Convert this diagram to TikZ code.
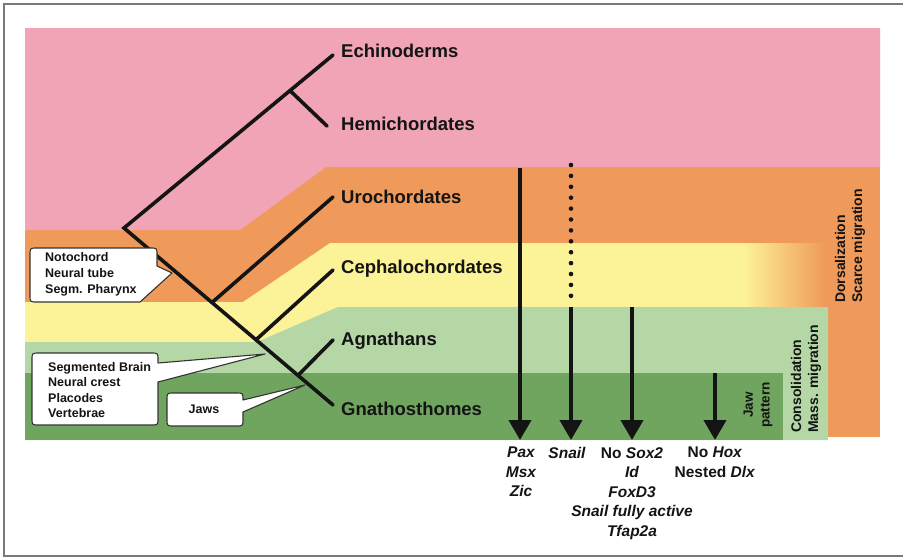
\documentclass[tikz,border=0pt]{standalone}
\usepackage{fontspec}
\setmainfont{Liberation Sans}
\usetikzlibrary{arrows.meta}
\definecolor{pinkbg}{RGB}{240,164,182}
\definecolor{orangebg}{RGB}{239,154,90}
\definecolor{yellowbg}{RGB}{252,242,152}
\definecolor{lgreen}{RGB}{180,215,165}
\definecolor{dgreen}{RGB}{112,165,96}
\definecolor{ink}{RGB}{20,20,20}
\definecolor{framegray}{RGB}{120,120,120}
\begin{document}
\begin{tikzpicture}[x=1pt,y=-1pt,
  treeline/.style={line width=3.6pt, line cap=round, draw=ink},
  taxon/.style={anchor=base west, inner sep=0pt, text=ink, font=\fontsize{18.5}{20}\selectfont\bfseries},
  callout/.style={draw=black!80, line width=1.1pt, fill=white, line join=round},
  callouttext/.style={inner sep=0pt, text=ink, align=left, font=\fontsize{12.5}{15.5}\selectfont\bfseries},
  genearrow/.style={line width=4.2pt, draw=ink, -{Triangle[width=22pt,length=20pt]}},
  genelabel/.style={anchor=north, inner sep=0pt, align=center, text=ink, font=\fontsize{15.5}{19.5}\selectfont\bfseries},
  sidetext/.style={rotate=90, inner sep=0pt, text=ink, font=\fontsize{14}{17}\selectfont\bfseries}
]
\useasboundingbox (0,0) rectangle (903,558);
\fill[white] (0,0) rectangle (903,558);
% frame
\draw[framegray, line width=1.5pt] (903,4) -- (4,4) -- (4,556) -- (903,556);

% background bands
\fill[orangebg] (25,167) rectangle (880,437);
\fill[pinkbg] (25,28) -- (880,28) -- (880,167) -- (326,167) -- (240,230) -- (25,230) -- cycle;
\fill[yellowbg] (25,302) -- (243,302) -- (330,243) -- (745,243) -- (745,342) -- (25,342) -- cycle;
\shade[left color=yellowbg, right color=orangebg] (744,243) rectangle (825,342);
\fill[lgreen] (25,342) -- (257,342) -- (338,307) -- (828,307) -- (828,440) -- (25,440) -- cycle;
\fill[dgreen] (25,373) rectangle (783,440);

% tree
\coordinate (root) at (124,228);
\coordinate (tE) at (333,55);
\coordinate (hJ) at (290,90.6);
\coordinate (tH) at (327,126);
\coordinate (tG) at (333,405);
\coordinate (uJ) at (212,302.5);
\coordinate (tU) at (333,197);
\coordinate (cJ) at (256,339.8);
\coordinate (tC) at (333,270);
\coordinate (aJ) at (298,375.4);
\coordinate (tA) at (333,340);
\draw[treeline] (tE) -- (root) -- (tG);
\draw[treeline] (hJ) -- (tH);
\draw[treeline] (uJ) -- (tU);
\draw[treeline] (cJ) -- (tC);
\draw[treeline] (aJ) -- (tA);

\node[taxon] (echi) at (341,57) {Echinoderms};
\node[taxon] (hemi) at (341,130) {Hemichordates};
\node[taxon] (uro) at (341,203) {Urochordates};
\node[taxon] (cephalo) at (341,273) {Cephalochordates};
\node[taxon] (agna) at (341,345) {Agnathans};
\node[taxon] (gnatho) at (341,415) {Gnathosthomes};

% callouts
\draw[callout] (140,302) -- (37,302) .. controls (30,302) .. (30,295) -- (30,255) .. controls (30,248) .. (37,248)
  -- (150,248) .. controls (157,248) .. (157,255) -- (157,266) -- (172,273) -- cycle;
\node[callouttext, anchor=north west] (noto) at (45,252) {Notochord\\[0.5pt]Neural tube\\[0.5pt]Segm. Pharynx};

\draw[callout] (158,382) -- (158,418) .. controls (158,425) .. (151,425) -- (39,425) .. controls (32,425) .. (32,418)
  -- (32,360) .. controls (32,353) .. (39,353) -- (151,353) .. controls (158,353) .. (158,360) -- (158,363) -- (265,354) -- cycle;
\node[callouttext, anchor=north west] (brain) at (48,362) {Segmented Brain\\Neural crest\\Placodes\\Vertebrae};

\draw[callout] (243,412) -- (243,419) .. controls (243,426) .. (236,426) -- (174,426) .. controls (167,426) .. (167,419)
  -- (167,400) .. controls (167,393) .. (174,393) -- (236,393) .. controls (243,393) .. (243,400) -- (305,385) -- cycle;
\node[callouttext] (jaws) at (204,409) {Jaws};

% gene arrows
\coordinate (a1s) at (520,168);
\coordinate (a1e) at (520,440);
\coordinate (dots) at (571,165);
\coordinate (dote) at (571,297);
\coordinate (a2s) at (571,307);
\coordinate (a2e) at (571,440);
\coordinate (a3s) at (632,307);
\coordinate (a3e) at (632,440);
\coordinate (a4s) at (715,373);
\coordinate (a4e) at (715,440);
\draw[genearrow] (a1s) -- (a1e);
\draw[ink, line width=4.6pt, line cap=round, dash pattern=on 0pt off 10.9pt] (dots) -- (dote);
\draw[genearrow] (a2s) -- (a2e);
\draw[genearrow] (a3s) -- (a3e);
\draw[genearrow] (a4s) -- (a4e);

\node[genelabel] (pax) at (521,447) {\itshape Pax\\\itshape Msx\\\itshape Zic};
\node[genelabel] (snail) at (567,447) {\itshape Snail};
\node[genelabel] (sox) at (632,447) {No \textit{Sox2}\\\itshape Id\\\itshape FoxD3\\\itshape Snail fully active\\\itshape Tfap2a};
\node[genelabel] (hox) at (715,447) {No \textit{Hox}\\Nested \textit{Dlx}};

% side texts
\node[sidetext, align=center, font=\fontsize{13.5}{17}\selectfont\bfseries] (jawpat) at (758,405) {Jaw\\pattern};
\node[sidetext, align=left, anchor=west] (consol) at (806,433) {Consolidation\\Mass. migration};
\node[sidetext, align=left, anchor=west] (dorsal) at (850,303) {Dorsalization\\Scarce migration};
\end{tikzpicture}
\end{document}
